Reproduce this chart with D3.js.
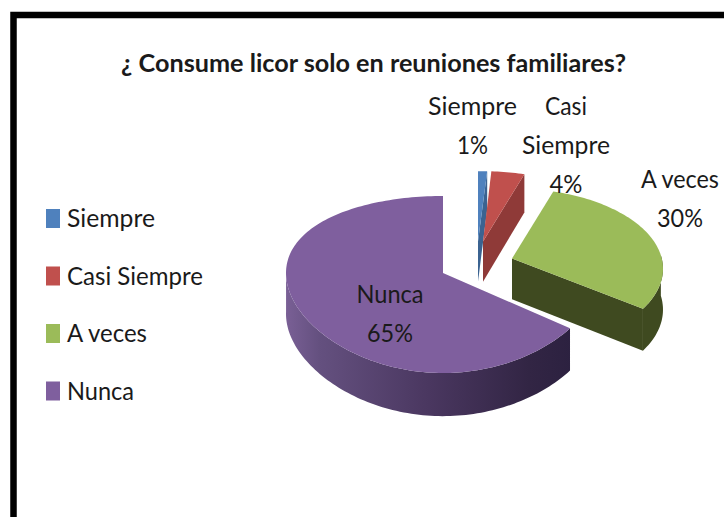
<!DOCTYPE html>
<html><head><meta charset="utf-8">
<script src="https://cdn.jsdelivr.net/npm/d3@7/dist/d3.min.js"></script>
<style>html,body{margin:0;padding:0;background:#fff}svg{display:block}text{font-family:Lato,"Open Sans",sans-serif;fill:#1a1a1a}</style>
</head><body><svg id="c" width="724" height="517"></svg>
<script>
const categories = ["Siempre","Casi Siempre","A veces","Nunca"];
const values = [1,4,30,65];
const colors = ["#4f81bd","#c0504d","#9bbb59","#7f5f9e"];
const wallColors = ["#3b6391","#8f3a38","#3f4a20","#4d3a63"];
const titleText = "¿ Consume licor solo en reuniones familiares?";
const labelLines = [["Siempre","1%"],["Casi","Siempre","4%"],["A veces","30%"],["Nunca","65%"]];

const svg = d3.select("#c");
const W = 724, H = 517;
svg.append("rect").attr("width",W).attr("height",H).attr("fill","#fff");
svg.append("path").attr("d","M13.5 517V15H724").attr("fill","none").attr("stroke","#000").attr("stroke-width",6.5);

svg.append("text").attr("x",121).attr("y",72).attr("font-size",25).attr("font-weight",700)
  .attr("textLength",505).attr("lengthAdjust","spacingAndGlyphs").text(titleText);

// legend
const legendY = d3.scalePoint().domain(categories).range([218.5,391]);
const legendW = [88,136,80,67];
const lg = svg.append("g").selectAll("g").data(categories).join("g");
lg.append("rect").attr("x",46).attr("width",14).attr("y",d=>legendY(d)-9.5).attr("height",19)
  .attr("fill",(d,i)=>colors[i]);
lg.append("text").attr("x",67).attr("y",d=>legendY(d)+8.5).attr("font-size",25.5)
  .attr("textLength",(d,i)=>legendW[i]).attr("lengthAdjust","spacingAndGlyphs").text(d=>d);

// perspective pie
const apex = {x:443,y:273}, R = 157, S = 87, P = 0.13, depth = 41;
// per-slice layout: screen shift dx, disk shift ey, scale about slice apex, x perspective
const sliceDx = [35,40,69,0], sliceEy = [-0.38,-0.38,-0.17,0];
const sliceSx = [1.1,1,0.975,1], sliceSy = [1,1,0.95,1], slicePx = [1,1,1,0];
const arcs = d3.pie().sort(null).value(d=>d)(values);
const line = d3.line();
function projector(i){
  const ey = sliceEy[i];
  const w0 = 1 - P*ey;
  const cy = apex.y + S*ey/w0, cx = apex.x + sliceDx[i];
  return (t,dy)=>{
    const u = t===null?0:Math.sin(t), v = ey - (t===null?0:Math.cos(t));
    const w = 1 - P*v, wx = slicePx[i] ? w : 1;
    const x = cx + sliceSx[i]*R*u/wx;
    const y = cy + sliceSy[i]*(apex.y + S*v/w - cy);
    return [x, y + dy*(1+P*v*0.4)];
  };
}
const grad = svg.append("defs").append("linearGradient").attr("id","wallGrad")
  .attr("gradientUnits","userSpaceOnUse").attr("x1",285).attr("x2",572).attr("y1",0).attr("y2",0);
[[0,"#7a6096"],[0.12,"#64507f"],[0.5,"#4a3760"],[0.85,"#322544"],[1,"#2c2140"]]
  .forEach(s=>grad.append("stop").attr("offset",s[0]).attr("stop-color",s[1]));

const pie = svg.append("g");
[3,0,1,2].forEach(i=>{
  const a = arcs[i], pr = projector(i);
  const n = Math.max(4,Math.ceil((a.endAngle-a.startAngle)*40));
  const th = d3.range(n+1).map(k=>a.startAngle+(a.endAngle-a.startAngle)*k/n);
  const c0 = pr(null,0), c1 = pr(null,depth);
  const g = pie.append("g");
  if(i<3){
    g.append("path").attr("d",line([c0,pr(a.endAngle,0),pr(a.endAngle,depth),c1])+"Z").attr("fill",wallColors[i]);
  }
  const front = th.filter(t=>Math.cos(t)<0.05);
  if(front.length>1){
    const top = front.map(t=>pr(t,0)), bot = front.map(t=>pr(t,depth)).reverse();
    g.append("path").attr("d",line(top.concat(bot))+"Z")
      .attr("fill", i===3 ? "url(#wallGrad)" : wallColors[i]);
  }
  g.append("path").attr("d",line([c0].concat(th.map(t=>pr(t,0))))+"Z").attr("fill",colors[i]);
});

// data labels
const labelX = [472.5,566,680,390];
const labelY = [115,115,188,303];
const labelW = [[89,31],[42,88,33],[78,46],[67,46]];
const labelSize = [25.5,25.5,24.5,25.5];
const lineStep = 39;
labelLines.forEach((ls,i)=>{
  ls.forEach((s,j)=>{
    svg.append("text").attr("x",labelX[i]).attr("y",labelY[i]+j*lineStep)
      .attr("text-anchor","middle").attr("font-size",labelSize[i])
      .attr("textLength",labelW[i][j]).attr("lengthAdjust","spacingAndGlyphs").text(s);
  });
});
</script></body></html>
